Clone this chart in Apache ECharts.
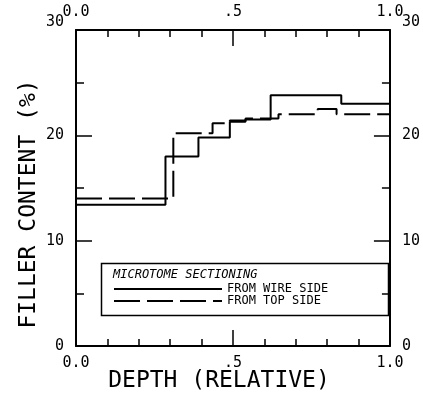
<!DOCTYPE html>
<html>
<head>
<meta charset="utf-8">
<script src="https://cdn.jsdelivr.net/npm/echarts@6/dist/echarts.min.js"></script>
<style>
  html, body { margin: 0; padding: 0; background: #fff; }
  #main { width: 423px; height: 403px; }
</style>
</head>
<body>
<div id="main"></div>
<script>
// step edges (relative depth) and the filler content held on each step
var wireEdges = [0, 0.285, 0.39, 0.49, 0.54, 0.62, 0.845, 1.0];
var wireValues = [13.4, 18.0, 19.8, 21.3, 21.5, 23.8, 23.0];
var topEdges = [0, 0.31, 0.435, 0.49, 0.54, 0.645, 0.77, 0.83, 1.0];
var topValues = [14.0, 20.2, 21.15, 21.4, 21.6, 22.0, 22.5, 22.0];

var seriesNames = ['FROM WIRE SIDE', 'FROM TOP SIDE'];
var legendTitle = 'MICROTOME SECTIONING';
var xTitle = 'DEPTH (RELATIVE)';
var yTitle = 'FILLER CONTENT (%)';

// x tick labels only at 0, .5, 1
var xLabels = { '0': '0.0', '0.5': '.5', '1': '1.0' };

function steps(edges, values) {
    var pts = [];
    for (var i = 0; i < values.length; i++) {
        pts.push([edges[i], values[i]]);
    }
    pts.push([edges[edges.length - 1], values[values.length - 1]]);
    return pts;
}

var FONT = 'DejaVu Sans Mono';

function xAxisCfg(pos) {
    return {
        type: 'value', position: pos, min: 0, max: 1, interval: 0.5,
        axisLine: { show: true, onZero: false, lineStyle: { color: '#000', width: 2 } },
        axisTick: { show: true, inside: true, length: 16, lineStyle: { color: '#000', width: 1.5 } },
        minorTick: { show: true, splitNumber: 5, length: 7, lineStyle: { color: '#000', width: 1.5 } },
        splitLine: { show: false },
        axisLabel: {
            margin: 10, color: '#000', fontFamily: FONT, fontSize: 15,
            formatter: function (v) { return xLabels[String(v)] || ''; }
        }
    };
}

function yAxisCfg(pos) {
    return {
        type: 'value', position: pos, min: 0, max: 30, interval: 10,
        axisLine: { show: true, onZero: false, lineStyle: { color: '#000', width: 2 } },
        axisTick: { show: true, inside: true, length: 16, lineStyle: { color: '#000', width: 1.5 } },
        minorTick: { show: true, splitNumber: 2, length: 8, lineStyle: { color: '#000', width: 1.5 } },
        splitLine: { show: false },
        axisLabel: {
            margin: 12, color: '#000', fontFamily: FONT, fontSize: 15,
            formatter: function (v) { return v === 30 ? '{up|30}' : String(v); },
            rich: { up: { fontFamily: FONT, fontSize: 15, color: '#000', padding: [0, 0, 16, 0] } }
        }
    };
}

var myChart = echarts.init(document.getElementById('main'));

var option = {
    backgroundColor: '#fff',
    animation: false,
    grid: { left: 76, right: 30, top: 30, bottom: 57 },
    xAxis: [xAxisCfg('bottom'), xAxisCfg('top')],
    yAxis: [yAxisCfg('left'), yAxisCfg('right')],
    legend: {
        left: 113, top: 283, orient: 'vertical',
        itemWidth: 108, itemHeight: 8, itemGap: 0, padding: 0,
        itemStyle: { opacity: 0 },
        textStyle: { fontFamily: FONT, fontSize: 12, lineHeight: 10, color: '#000' },
        data: seriesNames
    },
    series: [{
        name: seriesNames[0],
        type: 'line', step: 'end', symbol: 'none',
        lineStyle: { color: '#000', width: 2 },
        itemStyle: { color: '#000' },
        data: steps(wireEdges, wireValues)
    }, {
        name: seriesNames[1],
        type: 'line', step: 'end', symbol: 'none',
        lineStyle: { color: '#000', width: 2, type: [26, 7] },
        itemStyle: { color: '#000' },
        data: steps(topEdges, topValues)
    }],
    graphic: [{
        type: 'rect', left: 99, top: 261,
        shape: { width: 287, height: 52 },
        style: { fill: 'none', stroke: '#000', lineWidth: 1.5 }
    }, {
        type: 'text', x: 113, y: 275,
        style: {
            text: legendTitle, fill: '#000', fontFamily: FONT, fontSize: 12,
            fontStyle: 'italic', textAlign: 'left', textVerticalAlign: 'middle'
        }
    }, {
        type: 'text', x: 219, y: 381,
        style: {
            text: xTitle, fill: '#000', fontFamily: FONT, fontSize: 23,
            textAlign: 'center', textVerticalAlign: 'middle'
        }
    }, {
        type: 'text', x: 29, y: 204, rotation: Math.PI / 2,
        style: {
            text: yTitle, fill: '#000', fontFamily: FONT, fontSize: 23,
            textAlign: 'center', textVerticalAlign: 'middle'
        }
    }]
};

myChart.setOption(option);
</script>
</body>
</html>
